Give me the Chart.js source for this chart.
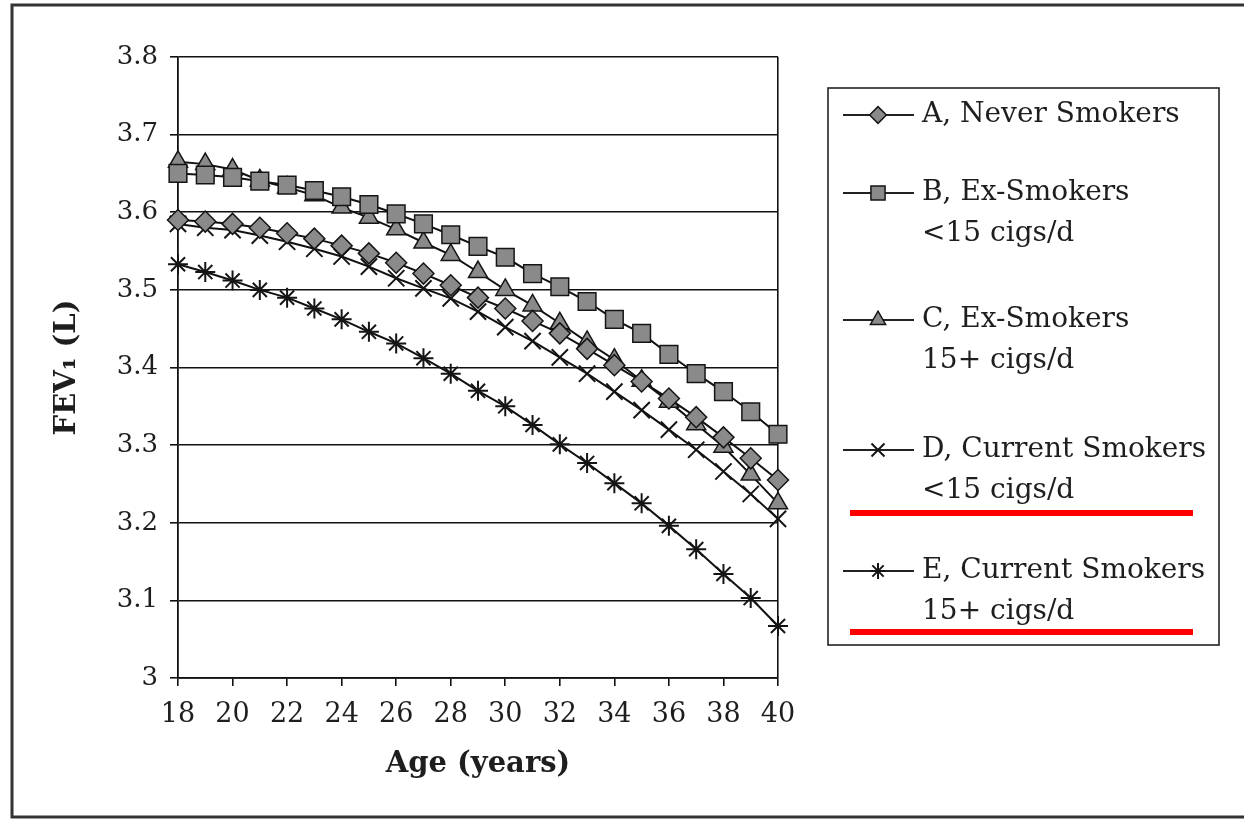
<!DOCTYPE html>
<html>
<head>
<meta charset="utf-8">
<script src="https://cdn.jsdelivr.net/npm/chart.js@4/dist/chart.umd.min.js"></script>
<style>
  html, body { margin: 0; padding: 0; background: #fff; }
  #wrap { width: 1244px; height: 819px; }
</style>
</head>
<body>
<div id="wrap"><canvas id="fev-chart" width="1244" height="819"></canvas></div>
<script>
// ages on the x axis
const ages = [18, 19, 20, 21, 22, 23, 24, 25, 26, 27, 28, 29, 30, 31, 32, 33, 34, 35, 36, 37, 38, 39, 40];

// FEV1 (L) per group
const neverSmokers = [3.590, 3.588, 3.585, 3.580, 3.573, 3.566, 3.557, 3.547, 3.535, 3.521, 3.506, 3.490, 3.476, 3.460, 3.444, 3.424, 3.403, 3.382, 3.360, 3.336, 3.310, 3.283, 3.255];
const exSmokersLight = [3.650, 3.648, 3.645, 3.640, 3.635, 3.628, 3.620, 3.610, 3.598, 3.585, 3.571, 3.556, 3.542, 3.521, 3.504, 3.485, 3.462, 3.444, 3.417, 3.392, 3.369, 3.343, 3.314];
const exSmokersHeavy = [3.665, 3.662, 3.655, 3.641, 3.632, 3.622, 3.606, 3.593, 3.578, 3.561, 3.545, 3.523, 3.500, 3.480, 3.457, 3.433, 3.410, 3.383, 3.356, 3.327, 3.298, 3.262, 3.225];
const currentLight = [3.585, 3.580, 3.577, 3.570, 3.562, 3.553, 3.543, 3.530, 3.515, 3.502, 3.489, 3.472, 3.452, 3.434, 3.413, 3.392, 3.369, 3.345, 3.320, 3.294, 3.266, 3.237, 3.205];
const currentHeavy = [3.533, 3.523, 3.512, 3.500, 3.490, 3.476, 3.462, 3.446, 3.431, 3.412, 3.392, 3.370, 3.350, 3.326, 3.301, 3.277, 3.251, 3.225, 3.196, 3.166, 3.134, 3.103, 3.067];

// legend text, one array per series (two lines for some)
const seriesLabels = [
  ["A, Never Smokers"],
  ["B, Ex-Smokers", "<15 cigs/d"],
  ["C, Ex-Smokers", "15+ cigs/d"],
  ["D, Current Smokers", "<15 cigs/d"],
  ["E, Current Smokers", "15+ cigs/d"]
];

// axis ticks
const yMin = 3, yMax = 3.8, yStep = 0.1;
const xMin = 18, xMax = 40, xStep = 2;

const serif = "'DejaVu Serif', 'Liberation Serif', serif";
const markerFill = "#8a8a8a";

const toPoints = (vals) => ages.map((a, i) => ({ x: a, y: vals[i] }));

function series(label, vals, style, radius, borderWidth) {
  return {
    label,
    data: toPoints(vals),
    borderColor: "#111",
    borderWidth: 2,
    pointStyle: style,
    pointRadius: radius,
    pointHoverRadius: radius,
    pointBackgroundColor: markerFill,
    pointBorderColor: "#151515",
    pointBorderWidth: borderWidth,
    tension: 0,
    clip: false
  };
}

// custom legend box + the frame and red marks of the scan
const legendBox = {
  id: "legendBox",
  afterDraw(chart) {
    const ctx = chart.ctx;
    ctx.save();

    // outer frame
    ctx.strokeStyle = "#333";
    ctx.lineWidth = 3;
    ctx.strokeRect(12, 5, 1240, 812);

    // legend frame
    ctx.lineWidth = 1.6;
    ctx.strokeStyle = "#222";
    ctx.strokeRect(828, 88, 391, 557);

    const rows = [115, 193, 320, 450, 571];
    ctx.font = "28px " + serif;
    ctx.textBaseline = "middle";
    chart.data.datasets.forEach((ds, i) => {
      const y = rows[i];
      ctx.beginPath();
      ctx.strokeStyle = "#222";
      ctx.lineWidth = 1.8;
      ctx.moveTo(843, y);
      ctx.lineTo(914, y);
      ctx.stroke();
      ctx.fillStyle = markerFill;
      ctx.strokeStyle = "#151515";
      ctx.lineWidth = ds.pointBorderWidth;
      Chart.helpers.drawPoint(ctx, {
        pointStyle: ds.pointStyle,
        radius: ds.pointRadius * 0.8,
        rotation: 0,
        borderWidth: ds.pointBorderWidth
      }, 878, y);
      ctx.fillStyle = "#1e1e1e";
      seriesLabels[i].forEach((line, j) => {
        ctx.fillText(line, 922, y + j * 41);
      });
    });

    // red underlines on the scan
    ctx.fillStyle = "#ff0000";
    ctx.fillRect(850, 510, 343, 6);
    ctx.fillRect(850, 629, 343, 6);
    ctx.restore();
  }
};

const ctx = document.getElementById("fev-chart").getContext("2d");
new Chart(ctx, {
  type: "line",
  data: {
    datasets: [
      series(seriesLabels[0].join(" "), neverSmokers, "rectRot", 10.5, 1.5),
      series(seriesLabels[1].join(" "), exSmokersLight, "rect", 12.5, 1.5),
      series(seriesLabels[2].join(" "), exSmokersHeavy, "triangle", 11, 1.5),
      series(seriesLabels[3].join(" "), currentLight, "crossRot", 11.5, 2),
      series(seriesLabels[4].join(" "), currentHeavy, "star", 10, 2)
    ]
  },
  options: {
    responsive: false,
    animation: false,
    events: [],
    layout: { padding: { left: 40, right: 466, top: 57, bottom: 31 } },
    plugins: {
      legend: { display: false },
      tooltip: { enabled: false }
    },
    scales: {
      x: {
        type: "linear",
        min: xMin,
        max: xMax,
        afterFit: (s) => { s.height = 110; },
        ticks: {
          stepSize: xStep,
          color: "#1e1e1e",
          font: { family: serif, size: 27 },
          padding: 13,
          maxRotation: 0
        },
        grid: {
          color: (c) => (c.tick && c.tick.value === xMax ? "#111" : "rgba(0,0,0,0)"),
          tickColor: "#111",
          tickLength: 8,
          lineWidth: 1.6
        },
        border: { color: "#111", width: 1.8 },
        title: {
          display: true,
          text: "Age (years)",
          color: "#1e1e1e",
          font: { family: serif, size: 29, weight: "bold" },
          padding: { top: 0, bottom: 6 }
        }
      },
      y: {
        min: yMin,
        max: yMax,
        afterFit: (s) => { s.width = 138; },
        ticks: {
          stepSize: yStep,
          color: "#1e1e1e",
          font: { family: serif, size: 26 },
          padding: 12,
          callback: (v) => String(+v.toFixed(1))
        },
        grid: {
          color: "#111",
          tickColor: "#111",
          tickLength: 8,
          lineWidth: 1.6
        },
        border: { color: "#111", width: 1.8 },
        title: {
          display: true,
          text: "FEV\u2081 (L)",
          color: "#1e1e1e",
          font: { family: serif, size: 29, weight: "bold" },
          padding: { top: 10, bottom: 0 }
        }
      }
    }
  },
  plugins: [legendBox]
});
</script>
</body>
</html>
